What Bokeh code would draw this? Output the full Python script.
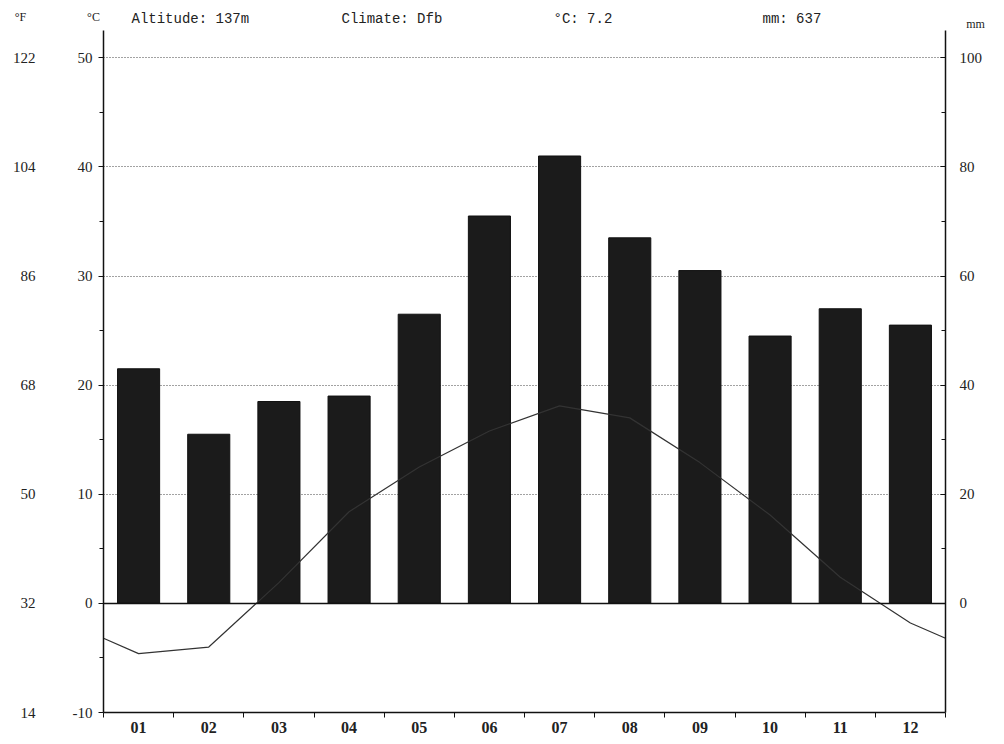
from bokeh.plotting import figure
from bokeh.models import Range1d, LinearAxis, FixedTicker, Span
from bokeh.layouts import column
from bokeh.core.properties import value
from bokeh.embed import file_html
from bokeh.resources import INLINE

months = ["01", "02", "03", "04", "05", "06", "07", "08", "09", "10", "11", "12"]
precip_mm = [43, 31, 37, 38, 53, 71, 82, 67, 61, 49, 54, 51]
temp_c = [-4.6, -4.0, 1.9, 8.4, 12.5, 15.8, 18.1, 17.0, 12.9, 8.1, 2.4, -1.8]
celsius_ticks = [-10, 0, 10, 20, 30, 40, 50]
fahrenheit_labels = ["14", "32", "50", "68", "86", "104", "122"]
mm_ticks = [0, 20, 40, 60, 80, 100]
header_texts = ["Altitude: 137m", "Climate: Dfb", "°C: 7.2", "mm: 637"]
unit_texts = ["°F", "°C", "mm"]

SERIF = "Liberation Serif"
MONO = "Liberation Mono"
W = 1000
HEAD_H = 30
MAIN_H = 710

# ---------- header strip (pixel coordinates, y downwards) ----------
head = figure(width=W, height=HEAD_H, output_backend="svg", toolbar_location=None,
              x_range=Range1d(0, W), y_range=Range1d(HEAD_H, 0),
              min_border_left=0, min_border_right=0, min_border_top=0, min_border_bottom=0,
              x_axis_location=None, y_axis_location=None)
head.outline_line_color = None
head.grid.visible = False
head.text(x=[131, 341, 553, 762], y=[18, 18, 18, 18], text=header_texts,
          text_font=value(MONO), text_font_size="14px", text_color="#222222",
          text_baseline="middle", text_align="left")
head.text(x=[20, 93, 975], y=[16, 16, 23], text=unit_texts,
          text_font=value(SERIF), text_font_size="12px", text_color="#222222",
          text_baseline="middle", text_align="center")

# ---------- main chart ----------
p = figure(width=W, height=MAIN_H, output_backend="svg", toolbar_location=None,
           x_range=Range1d(0.5, 12.5), y_range=Range1d(-10, 52.5),
           min_border_left=103, min_border_right=55, min_border_top=0, min_border_bottom=28,
           y_axis_location=None, x_axis_location=None)
try:
    head.frame_align = False
    p.frame_align = False
except Exception:
    pass
p.extra_y_ranges = {"mm": Range1d(-20, 105)}
p.outline_line_color = None

p.xgrid.visible = False
p.ygrid.ticker = FixedTicker(ticks=[10, 20, 30, 40, 50])
p.ygrid.grid_line_color = "#444444"
p.ygrid.grid_line_dash = "1 2"
p.ygrid.grid_line_width = 1

xs = list(range(1, 13))
p.vbar(x=xs, top=precip_mm, bottom=0, width=0.6, fill_color="#1b1b1b",
       line_color="#111111", y_range_name="mm")

p.add_layout(Span(location=0, dimension="width", line_color="#111111", line_width=1.5))

edge = (temp_c[-1] + temp_c[0]) / 2
p.line(x=[0.5] + xs + [12.5], y=[edge] + temp_c + [edge], line_color="#333333", line_width=1.2)

xaxis = LinearAxis(ticker=FixedTicker(ticks=xs, minor_ticks=[i + 0.5 for i in range(0, 13)]),
                   major_label_overrides={i + 1: m for i, m in enumerate(months)})
xaxis.major_tick_out = 0
xaxis.major_tick_in = 0
xaxis.minor_tick_out = 5
xaxis.minor_tick_in = 0
xaxis.minor_tick_line_color = "#111111"
xaxis.axis_line_color = "#111111"
xaxis.axis_line_width = 1.5
xaxis.major_label_text_font = SERIF
xaxis.major_label_text_font_size = "16px"
xaxis.major_label_text_font_style = "bold"
xaxis.major_label_text_color = "#222222"
xaxis.major_label_standoff = 4
p.add_layout(xaxis, "below")

caxis = LinearAxis(ticker=FixedTicker(ticks=celsius_ticks, minor_ticks=[-5, 5, 15, 25, 35, 45]))
caxis.major_label_overrides = {-10: "-10"}
caxis.axis_line_color = "#111111"
caxis.axis_line_width = 1.5
caxis.major_tick_out = 5
caxis.major_tick_in = 0
caxis.minor_tick_out = 4
caxis.minor_tick_in = 0
caxis.major_tick_line_color = "#111111"
caxis.minor_tick_line_color = "#111111"
caxis.major_label_text_font = SERIF
caxis.major_label_text_font_size = "15px"
caxis.major_label_text_color = "#222222"
caxis.major_label_standoff = 6
p.add_layout(caxis, "left")

faxis = LinearAxis(ticker=FixedTicker(ticks=celsius_ticks, minor_ticks=[]),
                   major_label_overrides={c: f for c, f in zip(celsius_ticks, fahrenheit_labels)})
faxis.axis_line_color = None
faxis.major_tick_line_color = None
faxis.major_tick_out = 0
faxis.major_tick_in = 0
faxis.minor_tick_out = 0
faxis.major_label_text_font = SERIF
faxis.major_label_text_font_size = "15px"
faxis.major_label_text_color = "#222222"
faxis.major_label_standoff = 34
p.add_layout(faxis, "left")

maxis = LinearAxis(y_range_name="mm",
                   ticker=FixedTicker(ticks=mm_ticks, minor_ticks=[10, 30, 50, 70, 90]))
maxis.axis_line_color = "#111111"
maxis.axis_line_width = 1.5
maxis.major_tick_out = 0
maxis.major_tick_in = 5
maxis.minor_tick_out = 0
maxis.minor_tick_in = 4
maxis.major_tick_line_color = "#111111"
maxis.minor_tick_line_color = "#111111"
maxis.major_label_text_font = SERIF
maxis.major_label_text_font_size = "15px"
maxis.major_label_text_color = "#222222"
maxis.major_label_standoff = 14
p.add_layout(maxis, "right")

layout = column(head, p, spacing=0)
open("out.html", "w").write(file_html(layout, INLINE))
